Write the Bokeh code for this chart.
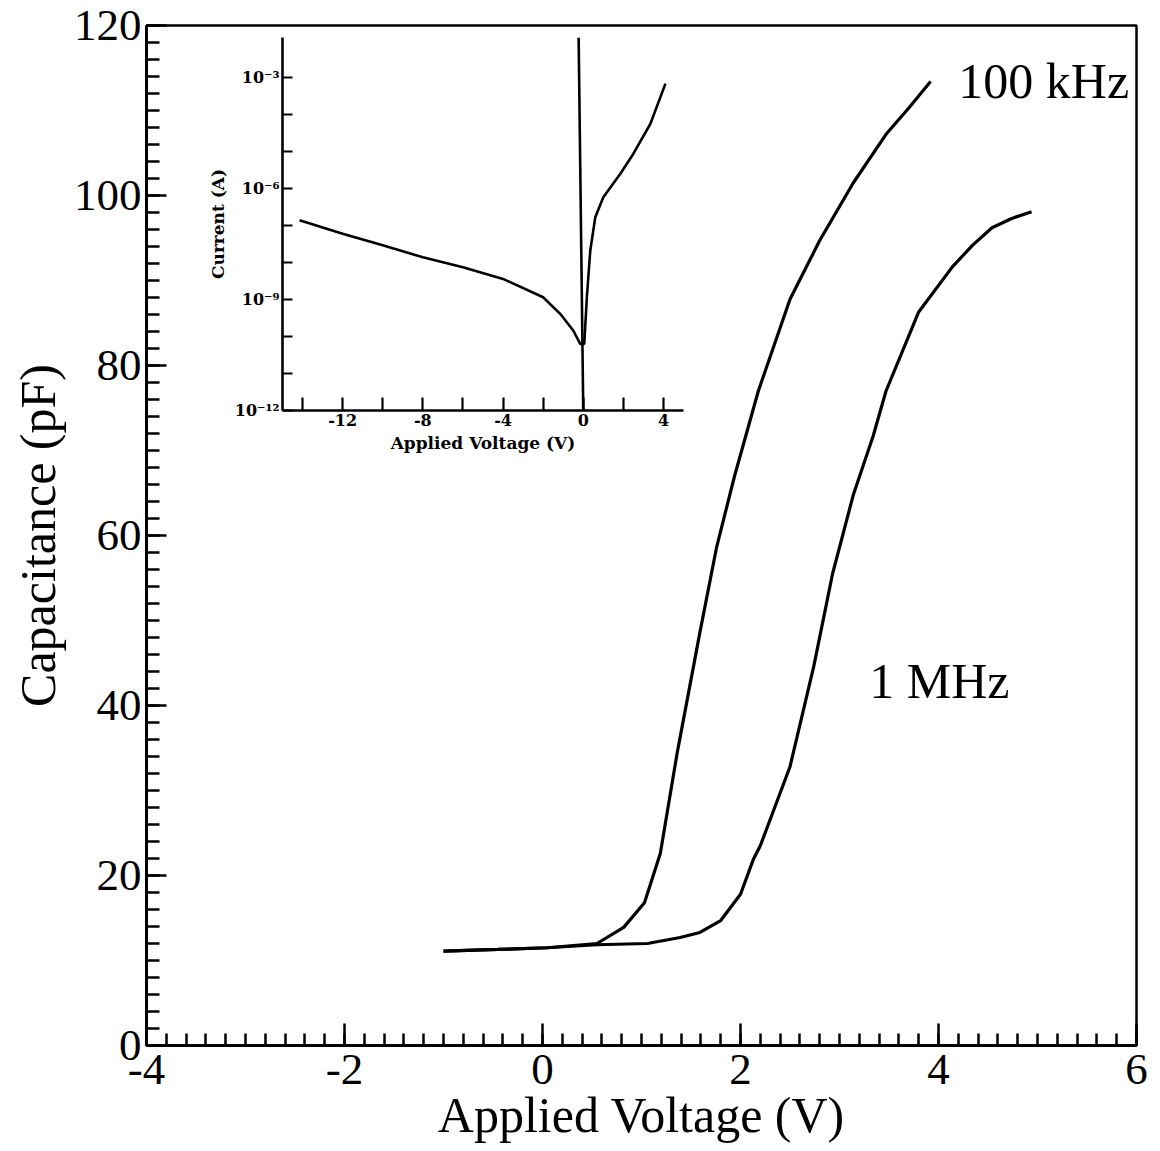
import numpy as np
from jinja2 import Template
from bokeh.plotting import figure
from bokeh.models import Range1d, SingleIntervalTicker, FixedTicker
from bokeh.core.properties import value
from bokeh.embed import file_html
from bokeh.resources import INLINE

# ---------------- main chart data (C-V) ----------------
v_100khz = [-1.0, -0.45, 0.05, 0.55, 0.82, 1.03, 1.19, 1.36, 1.59, 1.76, 1.94,
            2.18, 2.50, 2.80, 3.14, 3.47, 3.70, 3.92]
c_100khz = [11.1, 11.3, 11.5, 12.0, 13.9, 16.8, 22.6, 34.4, 48.6, 58.7, 67.0,
            77.0, 87.8, 94.7, 101.5, 107.2, 110.3, 113.4]

v_1mhz = [-1.0, -0.45, 0.05, 0.55, 1.06, 1.39, 1.59, 1.80, 2.00, 2.13, 2.20,
          2.50, 2.74, 2.93, 3.14, 3.34, 3.47, 3.80, 4.14, 4.34, 4.54, 4.74, 4.94]
c_1mhz = [11.1, 11.3, 11.5, 11.85, 12.0, 12.7, 13.3, 14.7, 17.8, 21.9, 23.5,
          32.8, 44.6, 55.5, 64.8, 71.7, 77.0, 86.3, 91.6, 94.1, 96.2, 97.3, 98.1]

series_labels = ["100 kHz", "1 MHz"]
x_tick_values = [-4, -2, 0, 2, 4, 6]
x_tick_labels = ["-4", "-2", "0", "2", "4", "6"]

# ---------------- inset data (I-V) ----------------
iv_voltage = [-14.15, -12.0, -10.0, -8.0, -6.0, -4.0, -2.0, -1.15, -0.5, -0.15,
              0.05, 0.18, 0.35, 0.6, 1.0, 1.85, 2.5, 3.35, 4.1]
iv_current = [1.38e-7, 6.0e-8, 2.9e-8, 1.38e-8, 7.4e-9, 3.6e-9, 1.15e-9, 4.1e-10,
              1.45e-10, 6.3e-11, 6.3e-11, 1.15e-9, 2.1e-8, 1.66e-7, 5.8e-7,
              2.5e-6, 8.7e-6, 5.6e-5, 6.8e-4]
spike_voltage = [-0.23, 0.0]
spike_current = [1.2e-2, 1e-12]

inset_x_ticks = [-12, -8, -4, 0, 4]
inset_x_labels = ["-12", "-8", "-4", "0", "4"]
inset_x_minor = [-14, -10, -6, -2, 2]
inset_y_ticks = [1e-12, 1e-9, 1e-6, 1e-3]
inset_y_labels = ["10\u207b\u00b9\u00b2", "10\u207b\u2079", "10\u207b\u2076", "10\u207b\u00b3"]
inset_y_minor = [1e-11, 1e-10, 1e-8, 1e-7, 1e-5, 1e-4]

SERIF = "Liberation Serif"
ISERIF = "DejaVu Serif"

# ---------------- main figure ----------------
p = figure(name="main", width=1156, height=1150,
           x_range=Range1d(-4, 6), y_range=Range1d(0, 120),
           output_backend="svg", toolbar_location=None,
           min_border_left=146, min_border_right=20,
           min_border_top=25, min_border_bottom=105)
p.grid.visible = False
p.outline_line_color = "black"
p.outline_line_width = 2.5
p.background_fill_color = "white"
p.border_fill_color = "white"

p.line(v_100khz, c_100khz, line_color="black", line_width=3.2)
p.line(v_1mhz, c_1mhz, line_color="black", line_width=3.2)

p.text(x=[4.20], y=[113.5], text=[series_labels[0]], text_font=value(SERIF),
       text_font_size="50px", text_align="left", text_baseline="alphabetic",
       text_color="black")
p.text(x=[3.30], y=[42.9], text=[series_labels[1]], text_font=value(SERIF),
       text_font_size="50px", text_align="left", text_baseline="alphabetic",
       text_color="black")

xa = p.xaxis[0]
xa.ticker = SingleIntervalTicker(interval=2, num_minor_ticks=10)
xa.major_label_overrides = {v: s for v, s in zip(x_tick_values, x_tick_labels)}
xa.axis_label = "Applied Voltage (V)"
ya = p.yaxis[0]
ya.ticker = SingleIntervalTicker(interval=20, num_minor_ticks=10)
ya.axis_label = "Capacitance (pF)"
for ax in (xa, ya):
    ax.axis_line_color = "black"
    ax.axis_line_width = 3
    ax.major_tick_line_color = "black"
    ax.minor_tick_line_color = "black"
    ax.major_tick_line_width = 2.5
    ax.minor_tick_line_width = 2.5
    ax.major_tick_out = 0
    ax.minor_tick_out = 0
    ax.major_label_text_font = SERIF
    ax.major_label_text_font_size = "45px"
    ax.major_label_text_color = "black"
    ax.axis_label_text_font = SERIF
    ax.axis_label_text_font_size = "50px"
    ax.axis_label_text_font_style = "normal"
    ax.axis_label_text_color = "black"
xa.major_tick_in = 22
xa.minor_tick_in = 12
ya.major_tick_in = 20
ya.minor_tick_in = 13
xa.major_label_standoff = 9
xa.axis_label_standoff = 0
ya.major_label_standoff = 5
ya.axis_label_standoff = 5

# ---------------- inset figure ----------------
ins = figure(name="inset", frame_width=401, frame_height=373,
             x_range=Range1d(-15, 5), y_range=Range1d(1e-12, 1.2e-2),
             y_axis_type="log", output_backend="svg", toolbar_location=None,
             min_border_left=86, min_border_top=7, min_border_right=12,
             min_border_bottom=50)
ins.grid.visible = False
ins.outline_line_color = None
ins.background_fill_alpha = 0
ins.border_fill_alpha = 0

ins.line(iv_voltage, iv_current, line_color="black", line_width=2.6)
ins.line(spike_voltage, spike_current, line_color="black", line_width=2.6)

ixa = ins.xaxis[0]
ixa.ticker = FixedTicker(ticks=inset_x_ticks, minor_ticks=inset_x_minor)
ixa.major_label_overrides = {v: s for v, s in zip(inset_x_ticks, inset_x_labels)}
ixa.axis_label = "Applied Voltage (V)"
iya = ins.yaxis[0]
iya.ticker = FixedTicker(ticks=inset_y_ticks, minor_ticks=inset_y_minor)
iya.major_label_overrides = {t: lab for t, lab in zip(inset_y_ticks, inset_y_labels)}
iya.axis_label = "Current (A)"
for ax in (ixa, iya):
    ax.axis_line_color = "black"
    ax.axis_line_width = 2.6
    ax.major_tick_line_color = "black"
    ax.minor_tick_line_color = "black"
    ax.major_tick_line_width = 2.2
    ax.minor_tick_line_width = 2.2
    ax.major_tick_out = 0
    ax.minor_tick_out = 0
    ax.major_label_text_font = ISERIF
    ax.major_label_text_font_style = "bold"
    ax.major_label_text_font_size = "16px"
    ax.major_label_text_color = "black"
    ax.axis_label_text_font = ISERIF
    ax.axis_label_text_font_size = "17px"
    ax.axis_label_text_font_style = "bold"
    ax.axis_label_text_color = "black"
    ax.major_label_standoff = 3
    ax.axis_label_standoff = 4
ixa.major_tick_in = 13
ixa.minor_tick_in = 13
iya.major_tick_in = 10
iya.minor_tick_in = 10

TEMPLATE = Template("""{% from macros import embed %}
{% extends base %}
{% block contents %}
<style>html, body { margin: 0; padding: 0; }</style>
<div style="position:relative;width:1156px;height:1150px;">
<div style="position:absolute;left:0px;top:0px;">{{ embed(roots.main) }}</div>
<div style="position:absolute;left:196px;top:30px;">{{ embed(roots.inset) }}</div>
</div>
{% endblock %}""")

open("out.html", "w").write(file_html([p, ins], INLINE, template=TEMPLATE))
